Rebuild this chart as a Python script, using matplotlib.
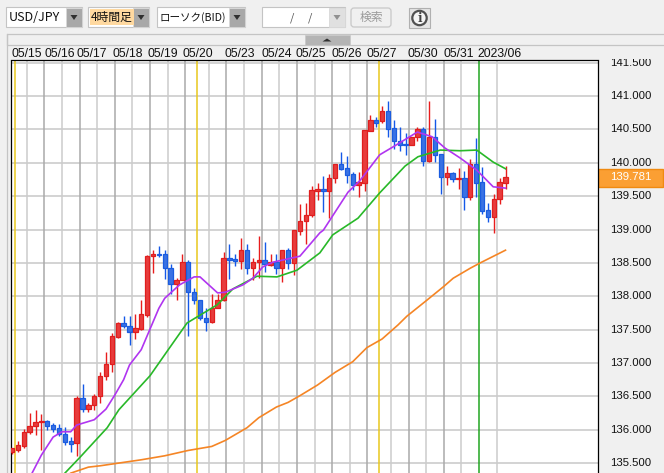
import matplotlib
matplotlib.use("Agg")
import matplotlib.pyplot as plt
from matplotlib.patches import Rectangle, Polygon, Circle, FancyBboxPatch
from matplotlib.transforms import Bbox

W, H = 664, 473

opens = [135.67, 135.69, 135.76, 135.96, 136.05, 136.11, 136.13, 136.07, 136.02, 135.94,
         135.83, 135.80, 136.47, 136.31, 136.37, 136.50, 136.80, 136.98, 137.39, 137.60,
         137.56, 137.47, 137.51, 137.72, 138.61, 138.64, 138.64, 138.42, 138.19, 138.25,
         138.51, 138.06, 137.95, 137.68, 137.62, 137.83, 137.94, 138.58, 138.56, 138.53,
         138.70, 138.42, 138.51, 138.54, 138.47, 138.52, 138.43, 138.69, 138.50, 138.98,
         139.12, 139.21, 139.58, 139.61, 139.58, 139.77, 139.98, 139.92, 139.83, 139.66,
         139.70, 140.48, 140.64, 140.63, 140.77, 140.52, 140.32, 140.28, 140.27, 140.38,
         140.50, 140.03, 140.38, 140.13, 139.78, 139.84, 139.75, 139.77, 139.48, 139.98,
         139.71, 139.29, 139.19, 139.45, 139.70]
highs = [135.73, 135.83, 136.01, 136.25, 136.30, 136.24, 136.15, 136.10, 136.09, 136.04,
         135.89, 136.51, 136.69, 136.40, 136.53, 136.87, 137.17, 137.45, 137.62, 137.70,
         137.70, 137.73, 137.94, 138.62, 138.69, 138.75, 138.69, 138.49, 138.28, 138.64,
         138.54, 138.13, 137.95, 137.83, 138.03, 138.03, 138.66, 138.79, 138.63, 138.87,
         138.79, 138.58, 138.90, 138.81, 138.63, 138.63, 138.69, 138.72, 139.00, 139.38,
         139.39, 139.65, 139.70, 139.80, 139.83, 139.98, 140.16, 140.10, 139.86, 139.86,
         140.49, 140.72, 140.68, 140.85, 140.93, 140.64, 140.53, 140.45, 140.39, 140.53,
         140.53, 140.93, 140.66, 140.13, 139.95, 139.86, 139.92, 139.88, 140.06, 140.37,
         139.94, 139.40, 139.53, 139.77, 139.95]
lows = [135.64, 135.66, 135.72, 135.94, 135.92, 135.70, 136.00, 135.96, 135.90, 135.77,
        135.67, 135.60, 136.26, 136.26, 136.29, 136.40, 136.75, 136.87, 137.37, 137.52,
        137.27, 137.36, 137.49, 137.69, 138.35, 138.59, 138.26, 138.04, 137.94, 138.24,
        137.40, 137.88, 137.65, 137.48, 137.60, 137.82, 137.93, 138.26, 138.45, 138.41,
        138.34, 138.24, 138.27, 138.37, 138.45, 138.34, 138.21, 138.41, 138.32, 138.92,
        138.79, 139.19, 139.44, 139.26, 139.17, 139.70, 139.89, 139.69, 139.59, 139.49,
        139.58, 140.47, 140.54, 140.60, 140.38, 140.21, 140.18, 140.11, 140.26, 140.32,
        139.95, 140.01, 140.01, 139.53, 139.67, 139.71, 139.61, 139.29, 139.44, 139.49,
        139.23, 139.11, 138.95, 139.38, 139.61]
closes = [135.72, 135.77, 135.96, 136.06, 136.11, 136.13, 136.06, 136.01, 135.94, 135.82,
          135.79, 136.47, 136.31, 136.37, 136.51, 136.80, 136.98, 137.40, 137.60, 137.56,
          137.47, 137.52, 137.73, 138.61, 138.64, 138.62, 138.42, 138.19, 138.25, 138.51,
          138.06, 137.95, 137.68, 137.62, 137.83, 137.95, 138.58, 138.55, 138.53, 138.70,
          138.42, 138.51, 138.54, 138.48, 138.52, 138.43, 138.69, 138.50, 138.99, 139.12,
          139.21, 139.59, 139.60, 139.58, 139.77, 139.98, 139.91, 139.82, 139.66, 139.71,
          140.49, 140.64, 140.59, 140.77, 140.51, 140.32, 140.27, 140.26, 140.38, 140.50,
          140.03, 140.38, 140.12, 139.78, 139.84, 139.76, 139.77, 139.48, 139.98, 139.70,
          139.28, 139.18, 139.45, 139.71, 139.781]

ma_short_x = [3, 5, 7, 8.5, 10, 11, 14, 16, 17.5, 19, 20, 22, 23.5, 25, 26, 28.5, 31, 32, 35,
              36.3, 39.3, 41, 42.7, 44.4, 48.5, 49, 52.4, 53, 57.2, 59.2, 62.6, 64.9, 69,
              71.5, 73.7, 76.3, 79.1, 81.9, 84]
ma_short = [135.28, 135.62, 135.89, 135.97, 135.97, 136.07, 136.15, 136.31, 136.52, 136.75,
            136.97, 137.20, 137.51, 137.82, 137.97, 138.17, 138.29, 138.29, 138.05, 138.06,
            138.17, 138.27, 138.44, 138.51, 138.59, 138.60, 138.95, 138.99, 139.56, 139.73,
            140.12, 140.24, 140.46, 140.39, 140.22, 140.07, 139.89, 139.64, 139.62]
ma_mid_x = [9, 11.6, 16.2, 18.2, 23.5, 26.6, 29.8, 31.5, 34.9, 37.6, 41.7, 45.1, 48.5, 52.4,
            54.6, 58.9, 62.6, 66.9, 69.1, 72.9, 76.3, 79.1, 81.9, 84]
ma_mid = [135.35, 135.59, 136.03, 136.30, 136.81, 137.20, 137.60, 137.69, 137.87, 138.11,
          138.30, 138.29, 138.39, 138.65, 138.92, 139.17, 139.55, 139.95, 140.09, 140.19,
          140.18, 140.19, 140.01, 139.91]
ma_long_x = [10, 13, 15, 22, 26, 30, 34, 36.3, 40, 42, 45, 47, 49, 52, 55, 58, 60.4, 63, 65.7,
             67.2, 70.6, 73.4, 75.1, 78, 79.7, 84]
ma_long = [135.35, 135.44, 135.46, 135.55, 135.61, 135.69, 135.75, 135.84, 136.03, 136.18,
           136.34, 136.41, 136.51, 136.67, 136.86, 137.02, 137.23, 137.36, 137.57, 137.70,
           137.94, 138.14, 138.27, 138.42, 138.50, 138.69]

date_labels = ['05/15', '05/16', '05/17', '05/18', '05/19', '05/20', '05/23', '05/24',
               '05/25', '05/26', '05/27', '05/30', '05/31', '2023/06']
date_pos = [0, 5.5, 11, 17.1, 23.1, 29.1, 36.1, 42.4, 48.3, 54.4, 60.4, 67.4, 73.4, 79.3]
price_ticks = [135.5, 136.0, 136.5, 137.0, 137.5, 138.0, 138.5, 139.0, 139.5, 140.0,
               140.5, 141.0, 141.5]

num_font = 'Liberation Sans'
jp_font = ['Noto Sans CJK JP', 'DejaVu Sans']

fig = plt.figure(figsize=(W / 100, H / 100), dpi=100, facecolor='#f0f0f0')

# window furniture, in pixels
ui = fig.add_axes([0, 0, 1, 1], zorder=0)
ui.set_xlim(0, W)
ui.set_ylim(H, 0)
ui.axis('off')


def combo(x0, x1, text, size=8.2, btn_color='#a8a8a8', tip='#303030'):
    ui.add_patch(Rectangle((x0, 7.5), x1 - x0, 20, fc='white', ec='#c4c4c4', lw=0.8))
    ui.add_patch(Rectangle((x1 - 16, 8), 15.5, 19, fc=btn_color, ec='#d8d8d8', lw=0.6))
    cx = x1 - 8
    ui.add_patch(Polygon([(cx - 3.5, 15), (cx + 3.5, 15), (cx, 20)], fc=tip, ec='none'))
    ui.text(x0 + 3, 17.5, text, family=jp_font, fontsize=size, va='center', color='#111111')


combo(6, 82, 'USD/JPY', size=9)
combo(88, 149, '')
ui.add_patch(Rectangle((90, 9), 44, 16.5, fc='#ffd9a0', ec='none'))
ui.text(91, 17.5, '4時間足', family=jp_font, fontsize=8.5, va='center', color='#111111')
combo(157, 245, 'ローソク(BID)', size=7.6)
combo(262, 345, '', btn_color='#e0e0e0', tip='#909090')
ui.text(292, 17.5, '/', fontsize=8, family=jp_font, va='center', ha='center', color='#555555')
ui.text(310, 17.5, '/', fontsize=8, family=jp_font, va='center', ha='center', color='#555555')
ui.add_patch(FancyBboxPatch((351, 8), 40, 19, boxstyle='round,pad=0,rounding_size=3',
                            fc='#f0f0f0', ec='#c8c8c8', lw=0.9))
ui.text(371, 17.5, '検索', family=jp_font, fontsize=8.5, va='center', ha='center', color='#9a9a9a')
ui.add_patch(Rectangle((409, 8), 20.5, 20.5, fc='#e4e4e4', ec='#b0b0b0', lw=0.8))
ui.add_patch(Circle((419.5, 18), 7.2, fc='#f4f4f4', ec='#505050', lw=1.6))
ui.text(419.5, 18, 'i', family='DejaVu Serif', fontsize=8.5, weight='bold', va='center',
        ha='center', color='#404040')

ui.add_patch(Rectangle((6.5, 34.5), W, 11, fc='#f0f0f0', ec='#c4c4c4', lw=0.9))
ui.add_patch(Rectangle((305, 35.5), 45, 9.5, fc='#b4b4b4', ec='#c8c8c8', lw=0.5))
ui.add_patch(Polygon([(322.5, 41.5), (331.5, 41.5), (327, 38.5)], fc='#303030', ec='none'))
ui.add_patch(Rectangle((598, 168.5), 64.5, 18, fc='#fb9f33', ec='#f08a10', lw=1))
ui.plot([6.5, 6.5], [34.5, H], color='#c4c4c4', lw=0.9)

# chart, x is candle number and one candle is 5.875 px
x_per_px = 1 / 5.875
ax = fig.add_axes([10.5 / W, 0, (597.5 - 10.5) / W, (H - 60.5) / H], zorder=1)
ax.set_xlim((10.5 - 12) * x_per_px, (597.5 - 12) * x_per_px)
ax.set_ylim(141 - (H - 96) / 66.75, 141 + (96 - 60.5) / 66.75)
ax.set_facecolor('white')
ax.spines['bottom'].set_visible(False)
for s in ['left', 'top', 'right']:
    ax.spines[s].set_linewidth(0.9)
    ax.spines[s].set_color('black')
ax.set_xticks([])
ax.set_yticks([])

for p in price_ticks:
    ax.axhline(p, color='#c8c8c8', lw=1.1, zorder=1)
for x in [2.5, 8.5, 14.5, 20.5, 26.5, 33.5, 39.5, 45.5, 51.5, 57.5, 64.5, 70.5, 76.5, 82.5]:
    ax.axvline(x, color='#cccccc', lw=1.1, zorder=1)
for x in [5.5, 11.5, 17.5, 23.5, 29.5, 36.5, 42.5, 48.5, 54.5, 60.5, 67.5, 73.5]:
    ax.axvline(x, color='#a9a9a9', lw=1.1, zorder=1)
for x in [0.5, 31.5, 62.5]:
    ax.axvline(x, color='#e8c81e', lw=1.1, zorder=1)
ax.axvline(79.5, color='#22a522', lw=1.1, zorder=1)

for i in range(len(opens)):
    up = closes[i] >= opens[i]
    wick = '#e81c1c' if up else '#1458e8'
    fill = '#e83c3c' if up else '#3a72e4'
    edge = '#e01e1e' if up else '#1a5ce0'
    ax.vlines(i, lows[i], highs[i], color=wick, lw=1.0, zorder=3)
    ax.bar(i, abs(closes[i] - opens[i]), bottom=min(opens[i], closes[i]), width=0.75,
           facecolor=fill, edgecolor=edge, linewidth=0.9, zorder=4)

ax.plot(ma_long_x, ma_long, color='#f58525', lw=1.2, zorder=5)
ax.plot(ma_mid_x, ma_mid, color='#28b828', lw=1.2, zorder=5)
ax.plot(ma_short_x, ma_short, color='#b035f0', lw=1.2, zorder=6)

xaxis_tr = ax.get_xaxis_transform()
for label, pos in zip(date_labels, date_pos):
    ax.annotate(label, xy=(pos, 1), xycoords=xaxis_tr, xytext=(0, 5),
                textcoords='offset points', family=num_font, fontsize=8.8, va='center',
                ha='left', color='#111111', annotation_clip=False)

yaxis_tr = ax.get_yaxis_transform()
label_clip = Bbox([[598, 0], [W, H - 59]])
label_x = (630.5 - 10.5) / 587
for p in price_ticks:
    t = ax.text(label_x, p, '%.3f' % p, transform=yaxis_tr, family=num_font,
                fontsize=8.2, va='center', ha='center', color='#111111', clip_on=True)
    t.set_clip_box(label_clip)
ax.text(label_x, closes[-1], '%.3f' % closes[-1], transform=yaxis_tr, family=num_font,
        fontsize=8.2, va='center', ha='center', color='white', clip_on=False)

fig.savefig('out.png', dpi=100)
